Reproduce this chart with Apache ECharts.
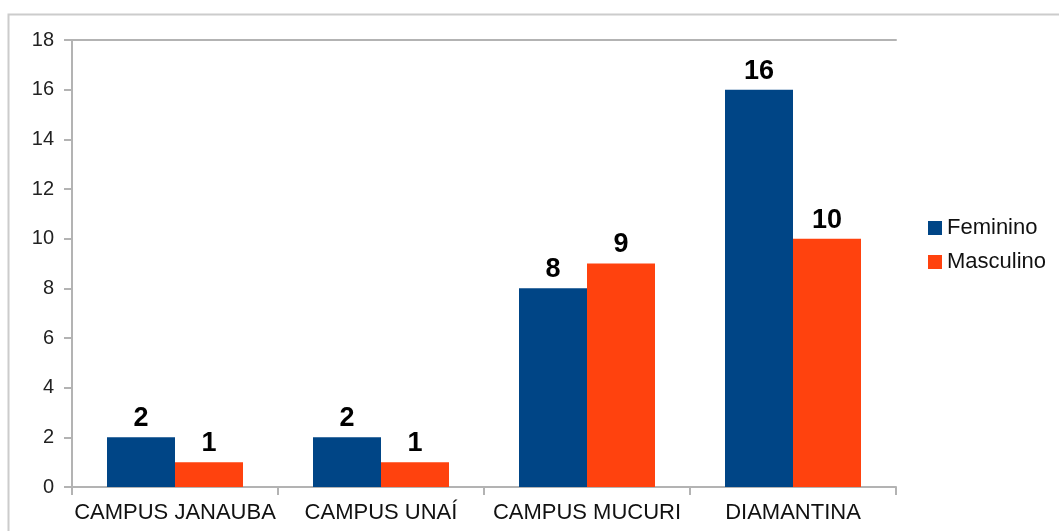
<!DOCTYPE html>
<html>
<head>
<meta charset="utf-8">
<script src="https://cdn.jsdelivr.net/npm/echarts@6/dist/echarts.min.js"></script>
<style>
  html, body { margin: 0; padding: 0; background: #fff; }
  #chart { width: 1059px; height: 531px; }
</style>
</head>
<body>
<div id="chart"></div>
<script>
// categorias e valores
const campi = ["CAMPUS JANAUBA", "CAMPUS UNAÍ", "CAMPUS MUCURI", "DIAMANTINA"];
const feminino = [2, 2, 8, 16];
const masculino = [1, 1, 9, 10];
const seriesNames = ["Feminino", "Masculino"];

const chart = echarts.init(document.getElementById("chart"));

const lineGray = "#b3b3b3";
const font = "Liberation Sans, Arial, sans-serif";

const dataLabel = {
  show: true,
  position: "top",
  distance: 5,
  color: "#000",
  fontSize: 27,
  fontWeight: "bold",
  fontFamily: font
};

const option = {
  animation: false,
  graphic: [
    {
      type: "rect",
      shape: { x: 8.5, y: 14.5, width: 1100, height: 600 },
      style: { fill: "none", stroke: "#cccccc", lineWidth: 2 },
      silent: true
    }
  ],
  legend: {
    orient: "vertical",
    left: 923,
    top: 212,
    itemWidth: 14,
    itemHeight: 14,
    itemGap: 12,
    icon: "rect",
    textStyle: { fontSize: 22, color: "#111", fontFamily: font },
    data: seriesNames
  },
  grid: {
    left: 72,
    right: 1059 - 896,
    top: 40,
    bottom: 531 - 487
  },
  xAxis: [
    {
      type: "category",
      data: campi,
      axisLine: { lineStyle: { color: lineGray, width: 2 } },
      axisTick: { show: true, length: 8, lineStyle: { color: lineGray, width: 2 } },
      axisLabel: { color: "#111", fontSize: 22, margin: 15, fontFamily: font, interval: 0 }
    },
    {
      type: "category",
      position: "top",
      data: campi,
      axisLine: { lineStyle: { color: lineGray, width: 2 } },
      axisTick: { show: false },
      axisLabel: { show: false }
    }
  ],
  yAxis: {
    type: "value",
    min: 0,
    max: 18,
    interval: 2,
    axisLine: { show: true, lineStyle: { color: lineGray, width: 2 } },
    axisTick: { show: true, length: 8, lineStyle: { color: lineGray, width: 2 } },
    axisLabel: { color: "#222", fontSize: 20, margin: 18, fontFamily: font },
    splitLine: { show: false }
  },
  series: [
    {
      name: seriesNames[0],
      type: "bar",
      data: feminino,
      barWidth: 68,
      barGap: "0%",
      itemStyle: { color: "#004586" },
      label: dataLabel
    },
    {
      name: seriesNames[1],
      type: "bar",
      data: masculino,
      barWidth: 68,
      barGap: "0%",
      itemStyle: { color: "#ff420e" },
      label: dataLabel
    }
  ]
};

chart.setOption(option);
</script>
</body>
</html>
